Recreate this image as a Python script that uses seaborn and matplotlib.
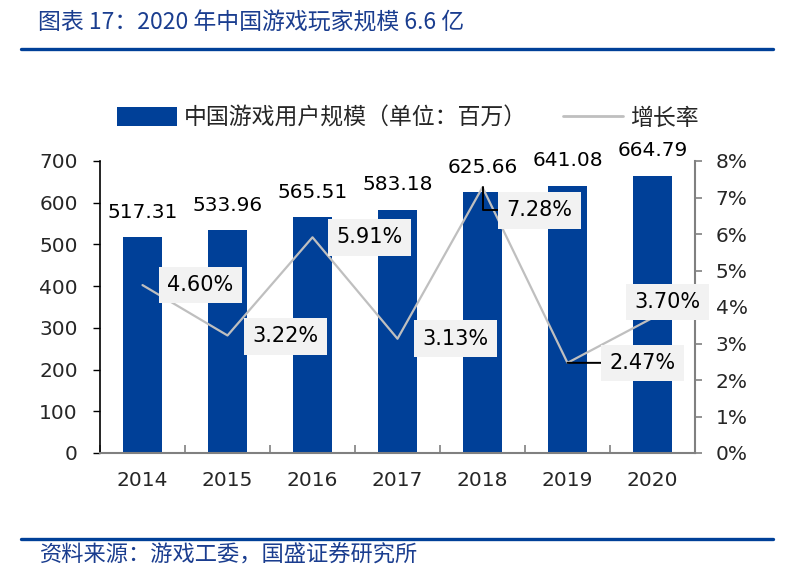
import numpy as np
import pandas as pd
import matplotlib
matplotlib.use("Agg")
import matplotlib.pyplot as plt
from matplotlib.patches import Patch
from matplotlib.lines import Line2D
from matplotlib.ticker import FuncFormatter, MultipleLocator, FixedLocator
import seaborn as sns

# ---- data ----
years = ["2014", "2015", "2016", "2017", "2018", "2019", "2020"]
users = [517.31, 533.96, 565.51, 583.18, 625.66, 641.08, 664.79]
growth = [4.60, 3.22, 5.91, 3.13, 7.28, 2.47, 3.70]
bar_label = "中国游戏用户规模（单位：百万）"
line_label = "增长率"
title = "图表 17：2020 年中国游戏玩家规模 6.6 亿"
source = "资料来源：游戏工委，国盛证券研究所"

# ---- label placement (pixel offsets from each point) ----
pct_offsets = [(58, 0), (58, -1), (57, 0), (58, 0), (57, -23), (75, 0), (15, 16)]
leader = [False, False, False, False, True, True, False]

sns.set_style("white")
plt.rcParams["font.family"] = ["DejaVu Sans", "Noto Sans CJK SC"]
CJK = ["Noto Sans CJK SC", "DejaVu Sans"]

BLUE = "#004098"
GREY = "#BFBFBF"
W, H = 787, 583

fig = plt.figure(figsize=(W / 100, H / 100), dpi=100)
ax = fig.add_axes([100 / W, (H - 453) / H, 595 / W, 292 / H])

df = pd.DataFrame({"year": years, "users": users})
sns.barplot(data=df, x="year", y="users", color=BLUE, saturation=1,
            width=0.47, ax=ax, edgecolor="none")
ax.set_xlabel("")
ax.set_ylabel("")
ax.set_xlim(-0.5, len(years) - 0.5)
ax.set_ylim(0, 700)
ax.yaxis.set_major_locator(MultipleLocator(100))

for i, v in enumerate(users):
    ax.annotate(f"{v:.2f}", xy=(i, v), xytext=(0, 25), textcoords="offset pixels",
                ha="center", va="center", fontsize=14.5, color="black")

ax2 = ax.twinx()
sns.lineplot(x=np.arange(len(years)), y=growth, ax=ax2, color=GREY, lw=1.6)
ax2.set_ylim(0, 8)
ax2.set_xlim(-0.5, len(years) - 0.5)
ax2.yaxis.set_major_locator(MultipleLocator(1))
ax2.yaxis.set_major_formatter(FuncFormatter(lambda x, p: f"{x:.0f}%"))
ax2.set_ylabel("")

for i, g in enumerate(growth):
    dx, dy = pct_offsets[i]
    kw = {}
    if leader[i]:
        if dy != 0:
            cs = "angle,angleA=0,angleB=90,rad=0"
        else:
            cs = "arc3"
        kw["arrowprops"] = dict(arrowstyle="-", color="black", lw=1.4,
                                shrinkA=0, shrinkB=0, connectionstyle=cs)
    ax2.annotate(f"{g:.2f}%", xy=(i, g), xytext=(dx, dy), textcoords="offset pixels",
                 ha="center", va="center", fontsize=15, color="black", zorder=5,
                 bbox=dict(boxstyle="square,pad=0.4", fc="#F2F2F2", ec="none"), **kw)

# spines & ticks
for a in (ax, ax2):
    a.spines["top"].set_visible(False)
    a.grid(False)
ax.spines["right"].set_visible(False)
ax.spines["left"].set_color("black")
ax.spines["bottom"].set_color("#808080")
ax.spines["left"].set_linewidth(1.2)
ax.spines["bottom"].set_linewidth(1.5)
ax2.spines["left"].set_visible(False)
ax2.spines["bottom"].set_visible(False)
ax2.spines["right"].set_color("#808080")
ax2.spines["right"].set_linewidth(1.5)

ax.tick_params(axis="y", which="major", direction="out", length=5, width=1,
               color="black", labelsize=14.5, pad=11, left=True)
ax.tick_params(axis="x", which="major", length=0, labelsize=14.5, pad=13, bottom=True)
ax.xaxis.set_minor_locator(FixedLocator(np.arange(-0.5, len(years), 1.0)))
ax.tick_params(axis="x", which="minor", direction="in", length=6, width=1.2,
               color="#808080", bottom=True)
ax2.tick_params(axis="y", which="major", direction="out", length=5, width=1.2,
                color="#808080", labelsize=14.5, pad=10, right=True)

# legend
handles = [Patch(facecolor=BLUE, edgecolor="none", label=bar_label),
           Line2D([], [], color=GREY, lw=2, label=line_label)]
fig.legend(handles=handles, loc="center left", bbox_to_anchor=(117 / W, 1 - 118 / H),
           ncol=2, frameon=False, borderpad=0, borderaxespad=0,
           handlelength=2.6, handleheight=0.85, handletextpad=0.3, columnspacing=1.6,
           prop={"family": CJK, "size": 16.5})

# title, rules, source
fig.text(38 / W, 1 - 23 / H, title, ha="left", va="center", fontsize=16.5,
         color="#1A3D8F", family=CJK)
fig.add_artist(Line2D([21 / W, 773 / W], [1 - 49 / H, 1 - 49 / H], color=BLUE, lw=2.4))
fig.add_artist(Line2D([21 / W, 773 / W], [1 - 539 / H, 1 - 539 / H], color=BLUE, lw=2.4))
fig.text(40 / W, 1 - 555 / H, source, ha="left", va="center", fontsize=16,
         color="#1A3D8F", family=CJK)

fig.savefig("out.png", dpi=100)
